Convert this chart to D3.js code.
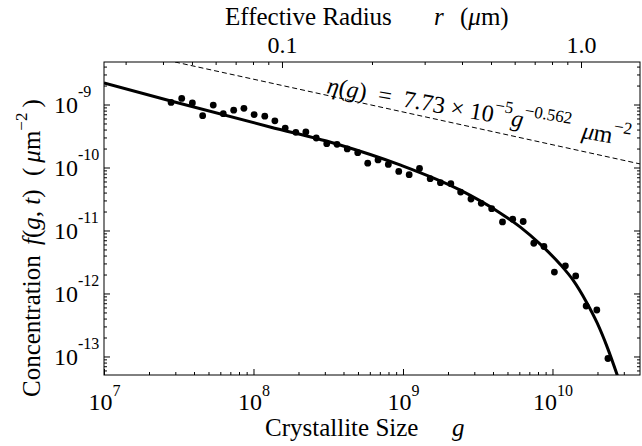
<!DOCTYPE html>
<html>
<head>
<meta charset="utf-8">
<script src="https://cdn.jsdelivr.net/npm/d3@7"></script>
<style>
  body { margin: 0; background: #fff; }
  svg text { font-family: "Liberation Serif", "Times New Roman", serif; }
</style>
</head>
<body>
<div id="chart"></div>
<script>
// measured points: crystallite size g vs concentration f(g,t)
var gSize = [2.81e7, 3.31e7, 3.90e7, 4.57e7, 5.38e7, 6.28e7, 7.37e7, 8.63e7, 1.01e8, 1.19e8,
    1.39e8, 1.63e8, 1.92e8, 2.24e8, 2.63e8, 3.09e8, 3.62e8, 4.24e8, 4.98e8, 5.81e8,
    6.81e8, 7.98e8, 9.37e8, 1.10e9, 1.29e9, 1.52e9, 1.78e9, 2.09e9, 2.43e9, 2.85e9,
    3.34e9, 3.92e9, 4.63e9, 5.42e9, 6.37e9, 7.50e9, 8.77e9, 1.03e10, 1.22e10, 1.43e10,
    1.68e10, 1.98e10, 2.35e10];
var conc = [1.08e-9, 1.25e-9, 1.06e-9, 6.64e-10, 9.8e-10, 7.15e-10, 8.12e-10, 8.7e-10, 6.93e-10, 6.52e-10,
    5.51e-10, 4.23e-10, 3.62e-10, 3.66e-10, 2.94e-10, 2.39e-10, 2.33e-10, 1.97e-10, 1.72e-10, 1.17e-10,
    1.32e-10, 1.12e-10, 8.65e-11, 7.69e-11, 9.64e-11, 6.64e-11, 5.74e-11, 5.53e-11, 4.08e-11, 3.16e-11,
    2.70e-11, 2.22e-11, 1.37e-11, 1.51e-11, 1.39e-11, 6.27e-12, 5.57e-12, 2.19e-12, 2.75e-12, 1.90e-12,
    6.33e-13, 5.47e-13, 9.29e-14];

// fitted curve
var fitG = [1e7, 2.76e7, 1.29e8, 3.79e8, 9.55e8, 2.40e9, 4.46e9, 6.07e9, 8.24e9, 1.12e10,
    1.37e10, 1.70e10, 1.99e10, 2.32e10, 2.75e10];
var fitF = [2.19e-9, 1.15e-9, 4.40e-10, 2.28e-10, 1.10e-10, 4.40e-11, 1.90e-11, 1.14e-11, 6.11e-12, 2.94e-12,
    1.64e-12, 7.06e-13, 3.40e-13, 1.42e-13, 4.6e-14];

// dashed eta(g) line end points
var etaG = [2.985e7, 3.85e10];
var etaF = [4.73e-9, 1.14e-10];

var xTicks = [1e7, 1e8, 1e9, 1e10];
var xTickExp = ["7", "8", "9", "10"];
var yTicks = [1e-9, 1e-10, 1e-11, 1e-12, 1e-13];
var yTickExp = ["-9", "-10", "-11", "-12", "-13"];
var rTicks = [0.1, 1.0];
var rTickLabels = ["0.1", "1.0"];

function make_chart(){
    var W = 642, H = 446;
    var mL = 104, mR = 640, mT = 62, mB = 375;
    var serif = '"Liberation Serif", "Times New Roman", serif';

    var svg = d3.select('#chart').append('svg')
        .attr('width', W).attr('height', H);

    var x = d3.scaleLog().domain([1e7, 3.85e10]).range([mL, mR]);
    var y = d3.scaleLog().domain([5.08e-14, 4.73e-9]).range([mB, mT]);
    var r = d3.scaleLog().domain([0.0254, 1.575]).range([mL, mR]);

    function minors(lo, hi){
        var out = [];
        for (var e = lo; e <= hi; e++)
            for (var m = 2; m <= 9; m++) out.push(m * Math.pow(10, e));
        return out;
    }

    svg.append('clipPath').attr('id', 'clip')
        .append('rect')
        .attr('x', mL).attr('y', mT)
        .attr('width', mR - mL).attr('height', mB - mT);

    var xMin = minors(6, 10).filter(function(v){ return v > 1e7 && v < 3.85e10; });
    var yMin = minors(-14, -9).filter(function(v){ return v > 5.08e-14 && v < 4.73e-9; });
    var rMin = [0.03,0.04,0.05,0.06,0.07,0.08,0.09,0.2,0.3,0.4,0.5,0.6,0.7,0.8,0.9];

    function tickAxis(axis, tr){
        var g = svg.append('g').attr('transform', tr).call(axis)
            .attr('font-family', serif);
        g.select('.domain').remove();
        g.selectAll('line').attr('stroke', '#000').attr('stroke-width', 1);
        return g;
    }

    tickAxis(d3.axisBottom(x).tickValues(xMin).tickSize(-3).tickFormat(''), 'translate(0,' + mB + ')');
    tickAxis(d3.axisTop(r).tickValues(rMin).tickSize(-3).tickFormat(''), 'translate(0,' + mT + ')');
    tickAxis(d3.axisLeft(y).tickValues(yMin).tickSize(-3).tickFormat(''), 'translate(' + mL + ',0)');
    tickAxis(d3.axisRight(y).tickValues(yMin).tickSize(-3).tickFormat(''), 'translate(' + mR + ',0)');
    tickAxis(d3.axisRight(y).tickValues(yTicks).tickSize(-6).tickFormat(''), 'translate(' + mR + ',0)');

    // bottom labels 10^n
    var xb = tickAxis(d3.axisBottom(x).tickValues(xTicks).tickSize(-6), 'translate(0,' + mB + ')');
    xb.selectAll('text').each(function(d, i){
        var t = d3.select(this).text('')
            .attr('y', 35).attr('dy', null)
            .attr('font-size', 24).attr('fill', '#000')
            .attr('text-anchor', 'middle');
        t.append('tspan').text('10');
        t.append('tspan').attr('dy', -14).attr('font-size', 16).text(xTickExp[i]);
    });

    // top labels (radius)
    var xt = tickAxis(d3.axisTop(r).tickValues(rTicks).tickSize(-6), 'translate(0,' + mT + ')');
    xt.selectAll('text').each(function(d, i){
        d3.select(this).text(rTickLabels[i])
            .attr('y', -9).attr('dy', null)
            .attr('font-size', 24).attr('fill', '#000');
    });

    // left labels
    var yl = tickAxis(d3.axisLeft(y).tickValues(yTicks).tickSize(-6), 'translate(' + mL + ',0)');
    yl.selectAll('text').each(function(d, i){
        var t = d3.select(this).text('')
            .attr('x', -50).attr('dy', null).attr('y', 8)
            .attr('font-size', 24).attr('fill', '#000')
            .attr('text-anchor', 'start');
        t.append('tspan').text('10');
        t.append('tspan').attr('dy', -16).attr('font-size', 16).text(yTickExp[i]);
    });

    svg.append('rect')
        .attr('x', mL).attr('y', mT)
        .attr('width', mR - mL).attr('height', mB - mT)
        .attr('fill', 'none').attr('stroke', '#000').attr('stroke-width', 1);

    var plot = svg.append('g').attr('clip-path', 'url(#clip)');

    plot.append('path')
        .datum(d3.zip(etaG, etaF))
        .attr('d', d3.line().x(function(d){ return x(d[0]); }).y(function(d){ return y(d[1]); }))
        .attr('fill', 'none').attr('stroke', '#000')
        .attr('stroke-width', 1).attr('stroke-dasharray', '5,3');

    plot.append('path')
        .datum(d3.zip(fitG, fitF))
        .attr('d', d3.line()
            .x(function(d){ return x(d[0]); })
            .y(function(d){ return y(d[1]); })
            .curve(d3.curveMonotoneX))
        .attr('fill', 'none').attr('stroke', '#000').attr('stroke-width', 3);

    plot.selectAll('circle')
        .data(d3.zip(gSize, conc))
        .enter()
        .append('circle')
        .attr('cx', function(d){ return x(d[0]); })
        .attr('cy', function(d){ return y(d[1]); })
        .attr('r', 3.4)
        .attr('fill', '#000');

    // annotation along the dashed line
    var ann = svg.append('text')
        .attr('transform', 'translate(326,93) rotate(10)')
        .attr('font-size', 24).attr('fill', '#000');
    ann.append('tspan').attr('font-style', 'italic').text('η');
    ann.append('tspan').text('(');
    ann.append('tspan').attr('font-style', 'italic').text('g');
    ann.append('tspan').text(')\u2002=\u20027.73 × 10');
    ann.append('tspan').attr('dy', -12).attr('font-size', 17).text('−5');
    ann.append('tspan').attr('dy', 12).attr('font-style', 'italic').text('g');
    ann.append('tspan').attr('dy', -12).attr('font-size', 17).text('−0.562');
    ann.append('tspan').attr('dy', 12).text('\u2002');
    ann.append('tspan').attr('font-style', 'italic').text('μ');
    ann.append('tspan').text('m');
    ann.append('tspan').attr('dy', -12).attr('font-size', 17).text('−2');

    // top title
    var tt = svg.append('text')
        .attr('x', 225).attr('y', 25).attr('font-size', 25);
    tt.append('tspan').text('Effective Radius');
    tt.append('tspan').attr('x', 434).attr('font-style', 'italic').text('r');
    tt.append('tspan').attr('x', 460).text('(');
    tt.append('tspan').attr('font-style', 'italic').text('μ');
    tt.append('tspan').text('m)');

    // bottom title
    var bt = svg.append('text')
        .attr('x', 265).attr('y', 436).attr('font-size', 25);
    bt.append('tspan').text('Crystallite Size');
    bt.append('tspan').attr('x', 452).attr('font-style', 'italic').text('g');

    // left title, rotated: x in text space is -y on the page
    var lt = svg.append('text')
        .attr('transform', 'translate(40,0) rotate(-90)')
        .attr('font-size', 25);
    lt.append('tspan').attr('x', -397).text('Concentration');
    lt.append('tspan').attr('x', -245).attr('font-style', 'italic').text('f');
    lt.append('tspan').text('(');
    lt.append('tspan').attr('font-style', 'italic').text('g');
    lt.append('tspan').text(', ');
    lt.append('tspan').attr('font-style', 'italic').text('t');
    lt.append('tspan').text(')');
    lt.append('tspan').attr('x', -176).text('(');
    lt.append('tspan').attr('font-style', 'italic').text('\u2009μ');
    lt.append('tspan').text('m');
    lt.append('tspan').attr('dy', -13).attr('font-size', 17).text('−2');
    lt.append('tspan').attr('dy', 13).text('\u2009)');
}

make_chart();
</script>
</body>
</html>
